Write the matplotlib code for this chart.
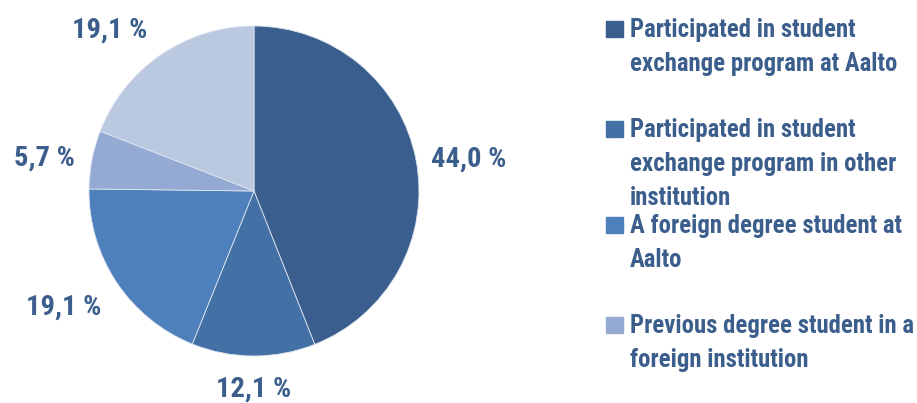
import matplotlib.pyplot as plt
import numpy as np
from matplotlib.patches import Rectangle
from matplotlib import font_manager

# Data
shares = [44.0, 12.1, 19.1, 5.7, 19.1]
share_labels = ['44,0 %', '12,1 %', '19,1 %', '5,7 %', '19,1 %']
legend_labels = [
    'Participated in student\nexchange program at Aalto',
    'Participated in student\nexchange program in other\ninstitution',
    'A foreign degree student at\nAalto',
    'Previous degree student in a\nforeign institution',
]
colors = ['#3A5F8E', '#4371A5', '#4E80BB', '#94AAD2', '#BAC8E0']

# label placement: distance from centre (in radii) and angular nudge (deg)
label_dist = [1.318, 1.184, 1.341, 1.289, 1.325]
label_shift = [-1.6, 0.1, -3.0, 1.3, 7.0]

text_color = '#3B5E8C'

# pick a narrow bold face if one is installed
names = {f.name for f in font_manager.fontManager.ttflist}
narrow = None
for cand in ['Liberation Sans Narrow', 'Roboto Condensed', 'Open Sans Condensed', 'DejaVu Sans Condensed']:
    if cand in names:
        narrow = cand
        break
if narrow is None:
    narrow = 'DejaVu Sans'
plt.rcParams['font.family'] = [narrow, 'DejaVu Sans']
plt.rcParams['font.weight'] = 'bold'
plt.rcParams['font.stretch'] = 'condensed'

fig = plt.figure(figsize=(9.17, 4.03), dpi=100)
ax = fig.add_axes([88 / 917, 47 / 403, 332 / 917, 330 / 403])

wedges, _ = ax.pie(shares, colors=colors, startangle=90, counterclock=False,
                   radius=1.0, wedgeprops=dict(edgecolor='#DDE4F0', linewidth=0.6))
ax.set_xlim(-1, 1)
ax.set_ylim(-1, 1)
ax.set_aspect('equal')
ax.axis('off')

# Percentage labels outside the slices (baseline sits half a cap-height below centre)
cap_half = 0.063
for w, lab, d, s in zip(wedges, share_labels, label_dist, label_shift):
    ang = np.deg2rad((w.theta1 + w.theta2) / 2 + s)
    ax.text(d * np.cos(ang), d * np.sin(ang) - cap_half, lab, ha='center', va='baseline',
            fontsize=20.5, fontweight='bold', fontstretch='condensed',
            color=text_color, clip_on=False)

# Legend drawn by hand so entries stay evenly spaced
baselines = [37, 137, 233, 333]
fs = 17.8
for lab, col, base in zip(legend_labels, colors, baselines):
    fig.patches.append(Rectangle((606 / 917, 1 - base / 403), 17 / 917, 16 / 403,
                                 transform=fig.transFigure, color=col))
    fig.text(630 / 917, 1 - (base - 1.06 * fs) / 403, lab, ha='left', va='top',
             fontsize=fs, fontweight='bold', fontstretch='condensed',
             color=text_color, linespacing=1.53)

fig.savefig('out.png', dpi=100, facecolor='white')
